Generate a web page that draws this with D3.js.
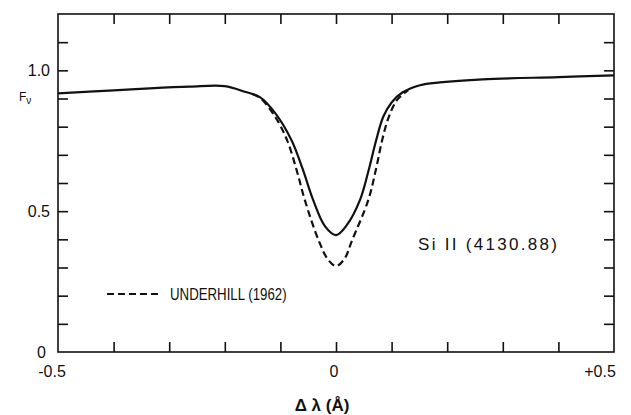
<!DOCTYPE html>
<html><head><meta charset="utf-8">
<script src="https://cdn.jsdelivr.net/npm/d3@7"></script>
<style>body{margin:0;background:#fff}svg{display:block}text{font-family:"Liberation Sans","DejaVu Sans",sans-serif;fill:#111}</style>
</head><body>
<script>
// Data
const solidX = [-0.5,-0.4,-0.335,-0.263,-0.2,-0.164,-0.137,-0.11,-0.08,-0.06,-0.041,-0.02,0,0.02,0.043,0.058,0.072,0.085,0.1,0.12,0.151,0.187,0.264,0.4,0.5];
const solidY = [0.918,0.929,0.936,0.942,0.944,0.924,0.905,0.85,0.752,0.65,0.539,0.447,0.415,0.452,0.539,0.64,0.75,0.835,0.886,0.922,0.947,0.957,0.968,0.976,0.982];
const dashX = [-0.15,-0.137,-0.11,-0.088,-0.07,-0.056,-0.032,-0.015,0,0.015,0.029,0.058,0.072,0.083,0.095,0.11,0.13];
const dashY = [0.915,0.903,0.837,0.752,0.64,0.539,0.40,0.33,0.305,0.33,0.397,0.539,0.65,0.752,0.835,0.895,0.93];
const xTicks = [-0.4,-0.3,-0.2,-0.1,0,0.1,0.2,0.3,0.4];
const yTicks = [0.1,0.2,0.3,0.4,0.5,0.6,0.7,0.8,0.9,1.0,1.1];
const xLabels = [{v:-0.5,t:"-0.5"},{v:0,t:"0"},{v:0.5,t:"+0.5"}];
const yLabels = [{v:0,t:"0"},{v:0.5,t:"0.5"},{v:1.0,t:"1.0"}];

const W=631,H=415;
const m={l:58,r:17,t:14,b:63};
const svg=d3.select("body").append("svg").attr("width",W).attr("height",H);
const x=d3.scaleLinear().domain([-0.5,0.5]).range([m.l,W-m.r]);
const y=d3.scaleLinear().domain([0,1.2]).range([H-m.b,m.t]);
const ink="#111";

// frame
svg.append("rect").attr("x",x(-0.5)).attr("y",y(1.2)).attr("width",x(0.5)-x(-0.5)).attr("height",y(0)-y(1.2))
  .attr("fill","none").attr("stroke",ink).attr("stroke-width",1.6);

// ticks via axes (inward)
const bx=svg.append("g").attr("transform",`translate(0,${y(0)})`)
  .call(d3.axisBottom(x).tickValues(xTicks).tickSize(-10).tickFormat(""));
const tx=svg.append("g").attr("transform",`translate(0,${y(1.2)})`)
  .call(d3.axisTop(x).tickValues(xTicks).tickSize(-10).tickFormat(""));
const ly=svg.append("g").attr("transform",`translate(${x(-0.5)},0)`)
  .call(d3.axisLeft(y).tickValues(yTicks).tickSize(-10).tickFormat(""));
const ry=svg.append("g").attr("transform",`translate(${x(0.5)},0)`)
  .call(d3.axisRight(y).tickValues(yTicks).tickSize(-10).tickFormat(""));
[bx,tx,ly,ry].forEach(g=>{g.select(".domain").remove();g.selectAll("line").attr("stroke",ink).attr("stroke-width",1.6);});

// tick labels
svg.selectAll(".xl").data(xLabels).join("text").attr("class","xl")
  .attr("x",d=>x(d.v)+(d.v<0?-6:d.v>0?-14:-2)).attr("y",y(0)+25).attr("text-anchor","middle")
  .attr("font-size",16).text(d=>d.t);
svg.selectAll(".yl").data(yLabels).join("text").attr("class","yl")
  .attr("x",d=>d.v===0?46:50).attr("y",d=>y(d.v)+6).attr("text-anchor","end")
  .attr("font-size",16).text(d=>d.t);

// y label F_nu
const fl=svg.append("text").attr("x",19).attr("y",101).attr("font-size",12);
fl.append("tspan").text("F");
fl.append("tspan").attr("font-size",10).attr("dy",3).text("ν");

// x title
svg.append("text").attr("x",322).attr("y",411).attr("text-anchor","middle").attr("font-size",17)
  .attr("font-weight","bold").text("Δ λ (Å)");

// curves
const line=d3.line().x(d=>x(d[0])).y(d=>y(d[1])).curve(d3.curveCatmullRom.alpha(0.5));
svg.append("path").datum(solidX.map((v,i)=>[v,solidY[i]])).attr("d",line)
  .attr("fill","none").attr("stroke",ink).attr("stroke-width",2.2);
svg.append("path").datum(dashX.map((v,i)=>[v,dashY[i]])).attr("d",line)
  .attr("fill","none").attr("stroke",ink).attr("stroke-width",2.2).attr("stroke-dasharray","7,4");

// annotations
svg.append("text").attr("x",418).attr("y",250).attr("font-size",17)
  .attr("letter-spacing",2.3).text("Si II (4130.88)");
svg.append("line").attr("x1",107).attr("x2",161).attr("y1",294).attr("y2",294)
  .attr("stroke",ink).attr("stroke-width",2.2).attr("stroke-dasharray","7,4");
svg.append("text").attr("transform","translate(170,300) scale(0.78,1)").attr("font-size",17)
  .text("UNDERHILL (1962)");
</script>
</body></html>
